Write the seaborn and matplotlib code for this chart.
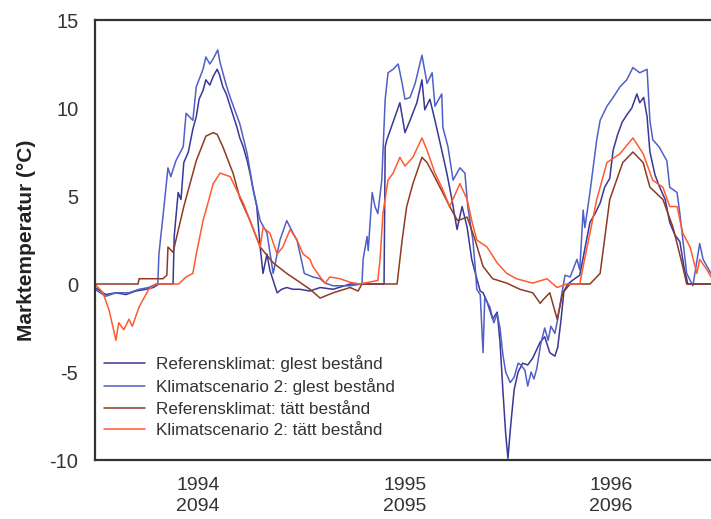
import matplotlib
matplotlib.use("Agg")
import matplotlib.pyplot as plt
import pandas as pd
import seaborn as sns

# day index from start of 1994 (resp. 2094), soil temperature in deg C
ref_glest_day = [0, 19, 37, 55, 72, 90, 103, 113, 138, 140, 147, 152, 157, 165, 173, 179, 184, 191, 196,
                 203, 209, 216, 220, 226, 232, 239, 244, 251, 256, 262, 269, 274, 280, 286, 292, 297,
                 304, 309, 315, 322, 330, 339, 350, 362, 380, 398, 421, 451, 511, 513, 516, 527, 539,
                 548, 557, 569, 578, 583, 592, 601, 613, 622, 631, 640, 649, 658, 666, 675, 681, 686,
                 693, 703, 711, 716, 721, 726, 730, 735, 741, 748, 756, 765, 774, 787, 795, 804, 813,
                 818, 824, 829, 836, 848, 857, 866, 875, 884, 893, 901, 910, 916, 924, 932, 940, 949,
                 958, 963, 970, 976, 981, 990, 997, 1008, 1016, 1025, 1034, 1041, 1048, 1089]
ref_glest_temp = [-0.2, -0.6, -0.5, -0.6, -0.4, -0.3, -0.2, 0.0, 0.0, 2.7, 5.2, 4.8, 6.9, 7.5, 8.8, 9.5,
                  10.5, 11.0, 11.6, 11.3, 11.8, 12.2, 11.9, 11.2, 10.8, 10.1, 9.6, 8.9, 8.3, 7.8, 7.0,
                  6.3, 5.3, 4.4, 2.1, 0.6, 1.7, 0.8, 0.2, -0.5, -0.3, -0.2, -0.3, -0.3, -0.4, -0.2, -0.3,
                  0.0, 0.0, 7.8, 8.2, 9.2, 10.3, 8.6, 9.3, 10.3, 11.6, 9.9, 10.5, 9.3, 7.6, 6.3, 4.8,
                  3.1, 4.4, 3.2, 1.4, 0.3, -0.4, -0.5, -1.0, -2.0, -1.6, -3.3, -6.0, -8.5, -9.9, -8.0,
                  -6.0, -5.0, -4.5, -4.6, -4.2, -3.3, -3.0, -3.9, -4.1, -3.6, -2.0, -0.4, 0.0, 0.3, 0.5,
                  2.0, 3.5, 4.0, 4.6, 5.5, 6.0, 7.6, 8.5, 9.2, 9.6, 10.0, 10.8, 10.3, 10.6, 9.5, 7.5,
                  6.2, 5.6, 4.8, 3.5, 2.8, 2.4, 1.0, 0.0, 0.0]

scen_glest_day = [0, 19, 37, 60, 78, 95, 108, 111, 113, 122, 129, 134, 143, 156, 161, 173, 179, 191, 196,
                  203, 209, 217, 221, 226, 232, 239, 256, 269, 279, 292, 304, 315, 327, 339, 350, 357,
                  364, 370, 385, 398, 407, 421, 451, 472, 474, 481, 483, 490, 495, 500, 507, 513, 518,
                  527, 536, 543, 548, 557, 566, 578, 587, 596, 601, 613, 615, 624, 633, 645, 654, 659,
                  668, 672, 675, 681, 686, 689, 698, 705, 711, 716, 721, 726, 734, 741, 748, 753, 760,
                  765, 771, 776, 781, 788, 795, 801, 806, 813, 818, 824, 831, 840, 852, 857, 863, 866,
                  875, 887, 893, 905, 916, 928, 940, 951, 963, 976, 981, 986, 997, 1011, 1016, 1029,
                  1034, 1046, 1057, 1069, 1075, 1089]
scen_glest_temp = [-0.3, -0.7, -0.5, -0.5, -0.3, -0.2, 0.0, 0.0, 1.7, 4.4, 6.6, 6.1, 7.0, 7.8, 9.7, 9.3,
                   11.2, 12.2, 12.9, 12.5, 12.8, 13.3, 12.6, 12.0, 11.3, 10.6, 9.1, 7.4, 5.5, 3.6, 2.9,
                   0.6, 2.5, 3.6, 2.9, 2.5, 1.5, 0.6, 0.4, 0.3, 0.05, -0.1, -0.1, 0.0, 1.4, 2.7, 1.9,
                   5.2, 4.4, 4.0, 5.9, 10.5, 12.0, 12.2, 12.5, 11.4, 10.5, 10.6, 11.4, 13.0, 11.4, 12.0,
                   10.1, 10.8, 8.9, 7.8, 5.9, 6.6, 6.3, 4.4, 2.5, 1.0, -0.3, -0.6, -3.9, -0.8, -1.3,
                   -2.2, -1.7, -2.5, -4.0, -5.0, -5.6, -5.3, -4.5, -4.6, -4.9, -5.8, -5.0, -5.4, -4.8,
                   -3.4, -2.5, -3.2, -2.4, -2.8, -2.0, -0.8, 0.5, 0.4, 1.4, 0.8, 4.2, 3.2, 5.2, 8.2, 9.3,
                   10.1, 10.6, 11.2, 11.6, 12.3, 12.0, 12.2, 9.3, 8.2, 7.8, 7.0, 5.5, 5.2, 4.0, 0.6,
                   -0.1, 2.3, 1.4, 0.6]

ref_tatt_day = [0, 76, 78, 120, 127, 129, 138, 157, 179, 196, 209, 216, 226, 244, 256, 274, 292, 315,
                339, 362, 380, 398, 421, 451, 465, 472, 534, 543, 551, 562, 578, 587, 597, 613, 627,
                641, 658, 672, 686, 703, 728, 751, 774, 787, 792, 804, 817, 827, 840, 875, 893, 910,
                933, 951, 969, 981, 1004, 1022, 1039, 1046, 1089]
ref_tatt_temp = [0.0, 0.0, 0.3, 0.3, 0.5, 2.1, 1.8, 4.4, 7.0, 8.4, 8.6, 8.5, 7.8, 6.3, 4.9, 3.6, 2.1,
                 1.2, 0.6, 0.1, -0.3, -0.8, -0.5, -0.2, -0.4, 0.0, 0.0, 2.5, 4.4, 5.7, 7.2, 6.9, 6.3,
                 5.3, 4.4, 3.6, 3.8, 2.5, 1.0, 0.3, 0.05, -0.3, -0.5, -1.1, -0.9, -0.5, -2.0, -0.5,
                 0.0, 0.0, 0.6, 4.8, 6.9, 7.5, 6.9, 5.5, 4.8, 3.2, 1.0, 0.0, 0.0]

scen_tatt_day = [0, 14, 25, 37, 42, 51, 60, 66, 78, 95, 108, 148, 161, 173, 179, 191, 198, 209, 221,
                 239, 251, 262, 279, 292, 297, 309, 322, 332, 345, 357, 368, 380, 385, 398, 407, 415,
                 433, 451, 468, 500, 504, 509, 518, 527, 539, 548, 562, 578, 587, 601, 613, 627, 645,
                 658, 666, 675, 693, 711, 728, 745, 774, 799, 817, 834, 857, 863, 875, 887, 905, 928,
                 951, 969, 986, 1004, 1016, 1029, 1039, 1052, 1064, 1069, 1082, 1089]
scen_tatt_temp = [0.0, -0.5, -1.5, -3.2, -2.2, -2.6, -2.0, -2.4, -1.3, -0.3, 0.0, 0.0, 0.4, 0.6, 1.7,
                  3.6, 4.4, 5.7, 6.3, 6.1, 5.3, 4.6, 3.2, 2.1, 3.2, 2.9, 1.7, 2.1, 3.1, 2.5, 1.7, 1.4,
                  1.0, 0.4, 0.05, 0.4, 0.3, 0.1, 0.0, 0.2, 1.4, 4.0, 5.9, 6.3, 7.2, 6.7, 7.2, 8.3, 7.6,
                  6.3, 5.5, 4.4, 5.7, 4.8, 3.6, 2.5, 2.1, 1.2, 0.6, 0.3, 0.05, 0.3, -0.2, 0.0, 0.0,
                  1.0, 2.9, 4.8, 6.9, 7.4, 8.3, 7.4, 5.9, 5.5, 4.4, 4.4, 2.9, 2.1, 0.6, 1.4, 0.8, 0.4]

series_names = ["Referensklimat: glest bestånd", "Klimatscenario 2: glest bestånd",
                "Referensklimat: tätt bestånd", "Klimatscenario 2: tätt bestånd"]
series_colors = ["#383896", "#4f60c6", "#8f3a22", "#ff5a30"]
year_labels = ["1994\n2094", "1995\n2095", "1996\n2096"]
year_starts = [0, 365, 730]

frames = []
for name, d, t in zip(series_names,
                      [ref_glest_day, scen_glest_day, ref_tatt_day, scen_tatt_day],
                      [ref_glest_temp, scen_glest_temp, ref_tatt_temp, scen_tatt_temp]):
    frames.append(pd.DataFrame({"dag": d, "temp": t, "serie": name}))
df = pd.concat(frames, ignore_index=True)

sns.set_style("white")
plt.rcParams["font.family"] = ["Liberation Sans", "DejaVu Sans"]
plt.rcParams["axes.unicode_minus"] = False

fig = plt.figure(figsize=(7.11, 5.19), dpi=100)
ax = fig.add_axes([95 / 711, 59 / 519, 616 / 711, 440 / 519])

sns.lineplot(data=df, x="dag", y="temp", hue="serie", hue_order=series_names,
             palette=dict(zip(series_names, series_colors)), estimator=None, sort=False,
             linewidth=1.1, ax=ax)

ax.set_xlim(0, 1089)
ax.set_ylim(-10, 15)
ax.set_yticks([-10, -5, 0, 5, 10, 15])
ax.set_xticks(year_starts)
ax.set_xticklabels([])
ax.set_xticks([s + 182.5 for s in year_starts], minor=True)
ax.set_xticklabels(year_labels, minor=True)
for lbl in ax.get_xticklabels(minor=True):
    lbl.set_linespacing(1.3)
ax.tick_params(axis="x", which="minor", length=0, pad=12, labelsize=14, labelcolor="#333333")
ax.tick_params(axis="x", which="major", length=5, width=1.2, direction="out", color="#333333")
ax.tick_params(axis="y", length=5, width=1.2, direction="out", color="#333333",
               labelsize=14.5, labelcolor="#333333", pad=7)
ax.set_xlabel("")
ax.set_ylabel("Marktemperatur (°C)", fontsize=15, fontweight="bold", color="#222222", labelpad=10)

for side in ["left", "bottom", "top"]:
    ax.spines[side].set_color("#333333")
    ax.spines[side].set_linewidth(1.6)
ax.spines["right"].set_visible(False)

handles, labels = ax.get_legend_handles_labels()
ax.legend(handles, labels, loc="lower left", bbox_to_anchor=(0.0, 0.03), frameon=False,
          fontsize=12.3, handlelength=2.45, handletextpad=0.6, labelspacing=0.38,
          borderaxespad=0.1, labelcolor="#333333")

fig.savefig("out.png", dpi=100)
